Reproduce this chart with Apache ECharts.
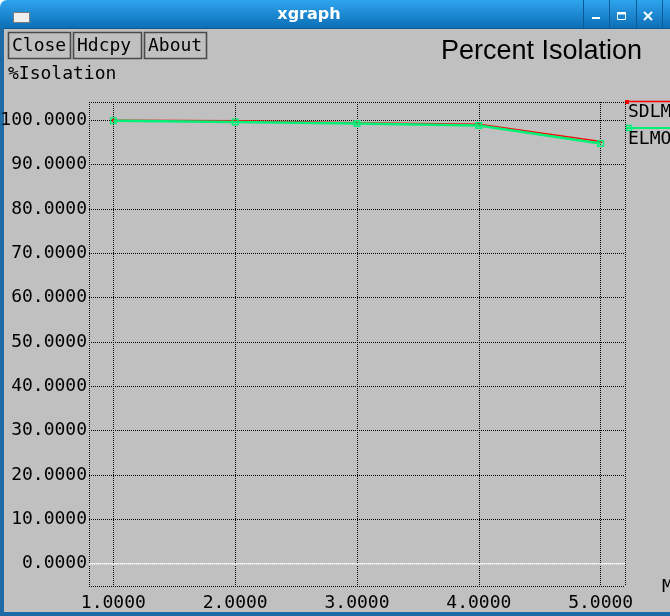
<!DOCTYPE html>
<html><head><meta charset="utf-8">
<script src="https://cdn.jsdelivr.net/npm/echarts@6/dist/echarts.min.js"></script>
<style>html,body{margin:0;padding:0;background:#fff}#c{width:670px;height:616px;background:#c0c0c0}</style>
</head><body><div id="c"></div>
<script>
// ---- data ----
const xValues = [1, 2, 3, 4, 5];
const sdlmValues = [100.0, 99.85, 99.4, 99.1, 95.2];
const elmoValues = [99.9, 99.6, 99.25, 98.8, 94.75];
const seriesNames = ['SDLM', 'ELMO'];
const windowTitle = 'xgraph';
const chartTitle = 'Percent Isolation';
const yAxisTitle = '%Isolation';
const xAxisTitle = 'M';
const buttonLabels = ['Close', 'Hdcpy', 'About'];

const MONO = '"DejaVu Sans Mono", "Liberation Mono", monospace';
const RED = '#ff0000';
const GREEN = '#00f078';
const chart = echarts.init(document.getElementById('c'), null, {renderer: 'canvas'});

const fmt = v => v.toFixed(4);
const dotted = {color: '#000', type: [1, 1], width: 1};

const buttonBoxes = [[8, 62], [73, 68], [144, 62]];
const buttonGraphics = [];
buttonLabels.forEach((t, i) => {
  buttonGraphics.push({type: 'rect', shape: {x: buttonBoxes[i][0] + 0.5, y: 32.5, width: buttonBoxes[i][1], height: 26},
    style: {fill: 'none', stroke: '#4a4a4a', lineWidth: 1.6}});
  buttonGraphics.push({type: 'text', x: buttonBoxes[i][0] + 4, y: 46,
    style: {text: t, font: '18px ' + MONO, fill: '#000', verticalAlign: 'middle'}});
});

const hollowSquare = 'path://M0 0H10V10H0Z M2 2V8H8V2Z';

const option = {
  animation: false,
  backgroundColor: 'transparent',
  grid: {left: 89, right: 45, top: 102, bottom: 30, containLabel: false, outerBoundsMode: 'none'},
  xAxis: [{
    type: 'value', min: 0.8, max: 5.2, splitNumber: 5,
    axisLine: {show: false},
    axisTick: {show: false},
    axisLabel: {formatter: fmt, showMinLabel: false, showMaxLabel: false, fontFamily: MONO, fontSize: 18, color: '#000', margin: 8},
    splitLine: {show: true, lineStyle: dotted}
  }],
  yAxis: [{
    type: 'value', min: -5, max: 104.1, splitNumber: 11,
    axisLine: {show: false},
    axisTick: {show: false},
    axisLabel: {formatter: fmt, showMinLabel: false, showMaxLabel: false, fontFamily: MONO, fontSize: 18, color: '#000', margin: 2},
    splitLine: {show: true, lineStyle: dotted}
  }],
  series: [{
    name: seriesNames[0], type: 'line',
    data: xValues.map((x, i) => [x, sdlmValues[i]]),
    lineStyle: {color: RED, width: 1.5},
    itemStyle: {color: RED},
    symbol: 'rect', symbolSize: 3, showSymbol: true,
    z: 3,
    markLine: {silent: true, symbol: ['none', 'none'], label: {show: false},
      lineStyle: {color: '#ffffff', type: 'solid', width: 1.5},
      data: [{yAxis: 0}]}
  }, {
    name: seriesNames[1], type: 'line',
    data: xValues.map((x, i) => [x, elmoValues[i]]),
    lineStyle: {color: GREEN, width: 2.5},
    itemStyle: {color: GREEN},
    symbol: hollowSquare, symbolSize: 7, showSymbol: true,
    z: 4
  }],
  graphic: {elements: [
    // window chrome
    {type: 'rect', shape: {x: 0, y: 0, width: 10, height: 10}, style: {fill: '#ffffff'}},
    {type: 'rect', shape: {x: 0, y: 0, width: 670, height: 29, r: [7, 0, 0, 0]},
      style: {fill: new echarts.graphic.LinearGradient(0, 0, 0, 1, [{offset: 0, color: '#2ea4ee'}, {offset: 1, color: '#0b6db4'}])}},
    {type: 'rect', shape: {x: 0, y: 28, width: 670, height: 1}, style: {fill: '#0a5a96'}},
    {type: 'rect', shape: {x: 0, y: 28, width: 4, height: 588}, style: {fill: '#1d6aa4'}},
    {type: 'rect', shape: {x: 0, y: 612, width: 670, height: 4}, style: {fill: '#1d6aa4'}},
    {type: 'rect', shape: {x: 13.5, y: 12.5, width: 16, height: 10}, style: {fill: '#eeeeee', stroke: '#7a7a7a', lineWidth: 1}},
    {type: 'text', x: 309, y: 15, style: {text: windowTitle, font: 'bold 16px "DejaVu Sans", sans-serif', fill: '#ffffff', align: 'center', verticalAlign: 'middle'}},
    {type: 'rect', shape: {x: 583, y: 0, width: 1, height: 28}, style: {fill: '#0a5a96'}},
    {type: 'rect', shape: {x: 609, y: 0, width: 1, height: 28}, style: {fill: '#0a5a96'}},
    {type: 'rect', shape: {x: 636, y: 0, width: 1, height: 28}, style: {fill: '#0a5a96'}},
    {type: 'rect', shape: {x: 662, y: 0, width: 1, height: 28}, style: {fill: '#0a5a96'}},
    {type: 'rect', shape: {x: 592, y: 17, width: 8, height: 2}, style: {fill: '#ffffff'}},
    {type: 'rect', shape: {x: 617.5, y: 12.5, width: 8, height: 7}, style: {fill: 'none', stroke: '#ffffff', lineWidth: 1}},
    {type: 'rect', shape: {x: 617.5, y: 12, width: 8, height: 2.5}, style: {fill: '#ffffff'}},
    {type: 'line', shape: {x1: 644, y1: 12, x2: 652, y2: 20}, style: {stroke: '#ffffff', lineWidth: 2}},
    {type: 'line', shape: {x1: 652, y1: 12, x2: 644, y2: 20}, style: {stroke: '#ffffff', lineWidth: 2}},
    ...buttonGraphics,
    {type: 'text', x: 642, y: 52, style: {text: chartTitle, font: '27px "Liberation Sans", Arial, sans-serif', fill: '#000', align: 'right', verticalAlign: 'middle'}},
    {type: 'text', x: 8, y: 74, style: {text: yAxisTitle, font: '18px ' + MONO, fill: '#000', verticalAlign: 'middle'}},
    {type: 'text', x: 662, y: 587, style: {text: xAxisTitle, font: '18px ' + MONO, fill: '#000', verticalAlign: 'middle'}},
    // legend
    {type: 'line', shape: {x1: 626, y1: 101.5, x2: 670, y2: 101.5}, style: {stroke: RED, lineWidth: 1.5}},
    {type: 'rect', shape: {x: 625, y: 100, width: 4, height: 4}, style: {fill: RED}},
    {type: 'text', x: 628, y: 112, style: {text: seriesNames[0], font: '18px ' + MONO, fill: '#000', verticalAlign: 'middle'}},
    {type: 'line', shape: {x1: 626, y1: 128, x2: 670, y2: 128}, style: {stroke: GREEN, lineWidth: 2}},
    {type: 'rect', shape: {x: 626.5, y: 125.5, width: 5, height: 5}, style: {fill: 'none', stroke: GREEN, lineWidth: 1.5}},
    {type: 'text', x: 628, y: 139, style: {text: seriesNames[1], font: '18px ' + MONO, fill: '#000', verticalAlign: 'middle'}}
  ]}
};
chart.setOption(option);
</script></body></html>
